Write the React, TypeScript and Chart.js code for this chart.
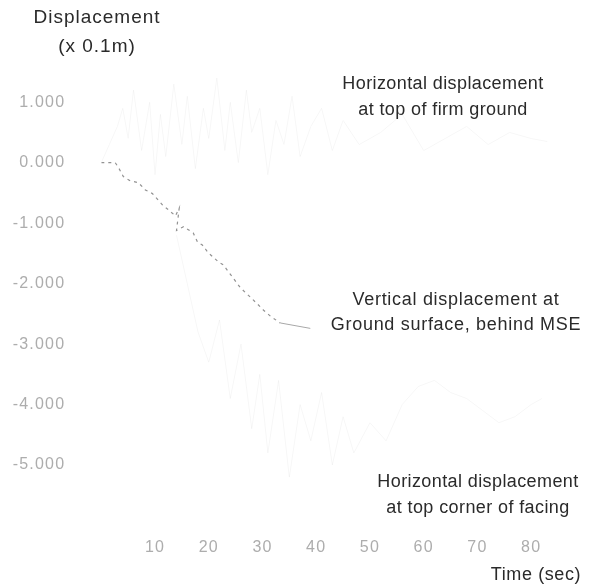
import { useEffect, useRef } from "react";
import { Chart, registerables } from "chart.js";

Chart.register(...registerables);

// Axis ticks
const xTickValues = [10, 20, 30, 40, 50, 60, 70, 80];
const yTickValues = [1, 0, -1, -2, -3, -4, -5];

// Vertical displacement at ground surface, behind MSE (x 0.1 m)
const verticalTime = [0, 2.6, 3.2, 4.1, 5.4, 6.9, 8.2, 9.5, 11.4, 12.5, 13.8, 14.5, 14.0, 15.3, 17.1, 17.9, 18.8, 19.9, 21.8, 22.7, 24.4, 25.9, 27.7, 29.2, 30.2, 31.5, 33.3];
const verticalDisp = [0, 0, -0.08, -0.23, -0.3, -0.33, -0.45, -0.51, -0.7, -0.78, -0.88, -0.75, -1.12, -1.06, -1.16, -1.31, -1.36, -1.49, -1.64, -1.69, -1.89, -2.07, -2.22, -2.35, -2.44, -2.54, -2.65];

// Pointer from the vertical-displacement curve to its caption
const leaderTime = [33.3, 38.9];
const leaderDisp = [-2.65, -2.74];

// Horizontal displacement at top of firm ground
const firmTime = [0, 1.5, 3, 4, 5, 6, 7.5, 9, 10, 11, 12, 13.5, 15, 16, 17.5, 19, 20, 21.5, 23, 24, 25.5, 27, 28, 29.5, 31, 32.5, 34, 35.5, 37, 39, 41, 43, 45, 48, 52, 56, 60, 64, 68, 72, 76, 80, 83];
const firmDisp = [0, 0.3, 0.6, 0.9, 0.4, 1.2, 0.2, 1.0, -0.2, 0.8, 0.1, 1.3, 0.3, 1.1, -0.1, 0.9, 0.4, 1.4, 0.2, 1.0, 0.0, 1.2, 0.5, 0.9, -0.2, 0.7, 0.3, 1.1, 0.1, 0.6, 0.9, 0.2, 0.7, 0.3, 0.5, 0.8, 0.2, 0.4, 0.6, 0.3, 0.5, 0.4, 0.35];

// Horizontal displacement at top corner of facing
const facingTime = [14, 16, 18, 20, 22, 24, 26, 28, 29.5, 31, 33, 35, 37, 39, 41, 43, 45, 47, 50, 53, 56, 59, 62, 65, 68, 71, 74, 77, 80, 82];
const facingDisp = [-1.2, -2.0, -2.8, -3.3, -2.6, -3.9, -3.0, -4.4, -3.5, -4.8, -3.6, -5.2, -4.0, -4.6, -3.8, -5.0, -4.2, -4.8, -4.3, -4.6, -4.0, -3.7, -3.6, -3.8, -3.9, -4.1, -4.3, -4.2, -4.0, -3.9];

const pairs = (xs: number[], ys: number[]) => xs.map((x, i) => ({ x, y: ys[i] }));

const FONT = "'Liberation Sans', Arial, Helvetica, sans-serif";

// Captions drawn on the canvas
const notes = [
  { lines: ["Displacement", "(x 0.1m)"], cx: 97, y: 18, gap: 29, size: 19, spacing: 1.0 },
  { lines: ["Horizontal displacement", "at top of firm ground"], cx: 443, y: 84, gap: 26, size: 18, spacing: 0.4 },
  { lines: ["Vertical displacement at", "Ground surface, behind MSE"], cx: 456, y: 300, gap: 25, size: 18, spacing: 0.7 },
  { lines: ["Horizontal displacement", "at top corner of facing"], cx: 478, y: 482, gap: 26, size: 18, spacing: 0.4 },
  { lines: ["Time (sec)"], cx: 536, y: 575, gap: 0, size: 18, spacing: 0.6 },
];

const notesPlugin = {
  id: "notes",
  afterDraw(chart: Chart) {
    const ctx = chart.ctx;
    ctx.save();
    ctx.fillStyle = "#2a2a2a";
    ctx.textAlign = "center";
    ctx.textBaseline = "middle";
    for (const n of notes) {
      ctx.font = `${n.size}px ${FONT}`;
      (ctx as any).letterSpacing = `${n.spacing}px`;
      n.lines.forEach((t, i) => ctx.fillText(t, n.cx, n.y + i * n.gap));
    }
    ctx.restore();
  },
};

const spacingPlugin = {
  id: "spacing",
  beforeDraw(chart: Chart) {
    (chart.ctx as any).letterSpacing = "1.2px";
  },
};

export default function App() {
  const canvasRef = useRef<HTMLCanvasElement | null>(null);

  useEffect(() => {
    if (!canvasRef.current) return;
    const chart = new Chart(canvasRef.current, {
      type: "line",
      data: {
        datasets: [
          {
            data: pairs(firmTime, firmDisp),
            borderColor: "rgba(0,0,0,0.035)",
            borderWidth: 1,
            pointRadius: 0,
            tension: 0,
          },
          {
            data: pairs(facingTime, facingDisp),
            borderColor: "rgba(0,0,0,0.035)",
            borderWidth: 1,
            pointRadius: 0,
            tension: 0,
          },
          {
            data: pairs(verticalTime, verticalDisp),
            borderColor: "#929292",
            borderWidth: 1.2,
            borderDash: [3, 4],
            pointRadius: 0,
            tension: 0,
          },
          {
            data: pairs(leaderTime, leaderDisp),
            borderColor: "#a8a8a8",
            borderWidth: 1,
            pointRadius: 0,
          },
        ],
      },
      options: {
        responsive: false,
        animation: false,
        devicePixelRatio: 1,
        layout: { padding: { top: 72, right: 36, left: 0, bottom: 0 } },
        plugins: {
          legend: { display: false },
          tooltip: { enabled: false },
        },
        scales: {
          x: {
            type: "linear",
            min: 0,
            max: 85,
            grid: { display: false, drawTicks: false },
            border: { display: false },
            afterFit(scale: any) {
              scale.height = 48.4;
            },
            afterBuildTicks(scale: any) {
              scale.ticks = xTickValues.map((v) => ({ value: v }));
            },
            ticks: {
              autoSkip: false,
              maxRotation: 0,
              padding: 0,
              color: "#adadad",
              font: { family: FONT, size: 16 },
              callback: (v: any) => String(v),
            },
          },
          y: {
            type: "linear",
            min: -6.2,
            max: 1.5,
            grid: { display: false, drawTicks: false },
            border: { display: false },
            afterFit(scale: any) {
              scale.width = 101.3;
            },
            afterBuildTicks(scale: any) {
              scale.ticks = yTickValues.map((v) => ({ value: v }));
            },
            ticks: {
              autoSkip: false,
              padding: 36,
              color: "#adadad",
              font: { family: FONT, size: 16 },
              callback: (v: any) => Number(v).toFixed(3),
            },
          },
        },
      },
      plugins: [spacingPlugin, notesPlugin],
    });
    return () => chart.destroy();
  }, []);

  return (
    <div style={{ position: "absolute", left: 0, top: 0, width: 594, height: 586, background: "#fff" }}>
      <canvas ref={canvasRef} width={594} height={586} />
    </div>
  );
}
